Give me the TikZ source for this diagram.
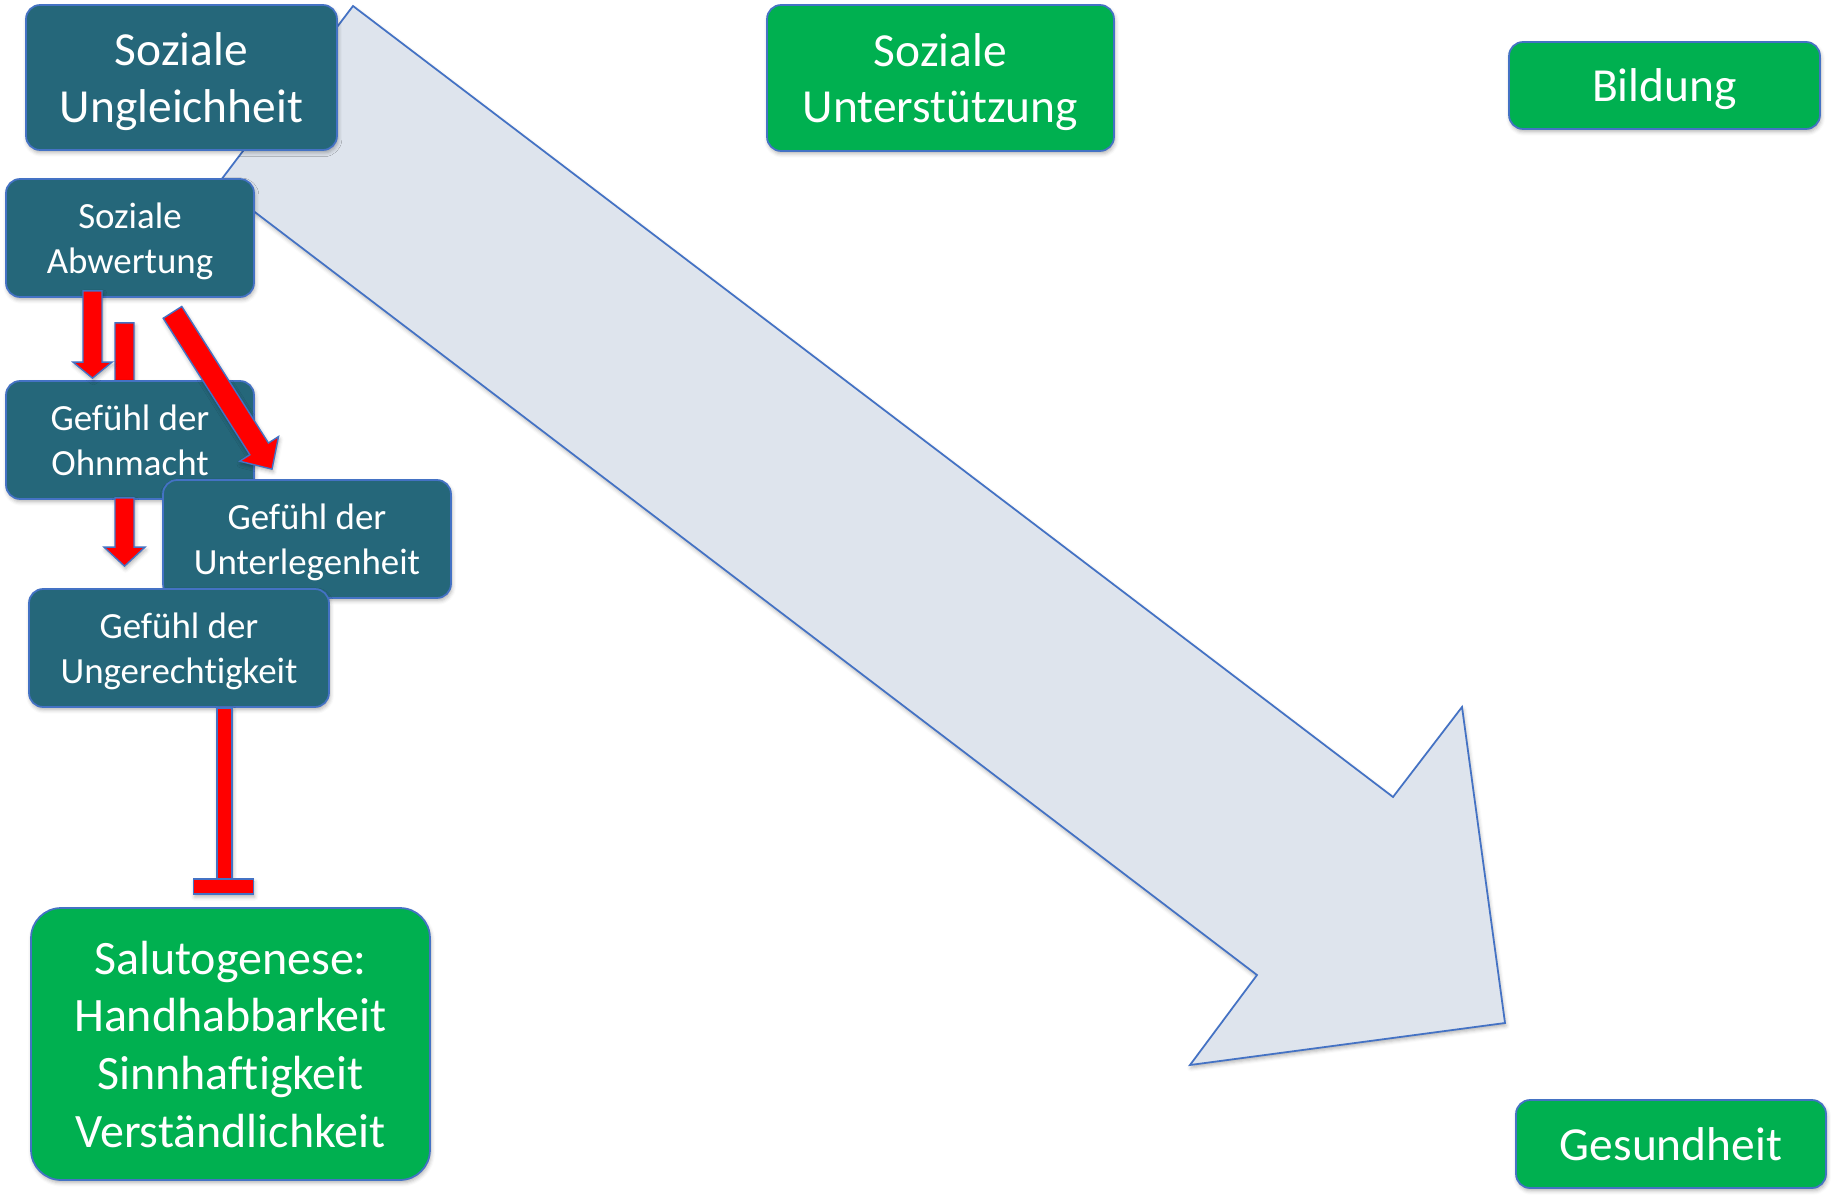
\documentclass[tikz,border=0pt]{standalone}
\usepackage{fontspec}
\setmainfont{Carlito}[Ligatures=NoCommon]
\usetikzlibrary{calc,shadows.blur}

\definecolor{boxteal}{HTML}{25677A}
\definecolor{boxgreen}{HTML}{00B050}
\definecolor{edgeblue}{HTML}{4472C4}
\definecolor{flowfill}{HTML}{DEE4ED}
\definecolor{alarmred}{HTML}{FF0000}

\tikzset{
  softshadow/.style={blur shadow={shadow xshift=0.6pt, shadow yshift=-1.6pt,
      shadow blur radius=2.2pt, shadow opacity=30}},
  box/.style={draw=edgeblue, line width=1pt, inner sep=0pt, align=center,
      text=white, text depth=0pt, rounded corners=0.28cm, softshadow},
  tealbig/.style={box, fill=boxteal, font=\fontsize{27}{32.4}\selectfont},
  tealsmall/.style={box, fill=boxteal, font=\fontsize{21}{25.4}\selectfont},
  greenbig/.style={box, fill=boxgreen, font=\fontsize{27}{32.4}\selectfont},
  greenlist/.style={box, fill=boxgreen, rounded corners=0.6cm,
      font=\fontsize{27.3}{32.8}\selectfont},
  flow/.style={draw=edgeblue, line width=1pt, fill=flowfill, line join=miter, softshadow},
  redblock/.style={draw=edgeblue, line width=0.8pt, fill=alarmred, line join=miter, softshadow},
}

% block arrow: start, tip, shaft half-width, head half-width, head length
\newcommand\blockarrow[5]{%
  \coordinate (bh) at ($(#2)!#5!(#1)$);
  \filldraw[redblock] ($(#1)!#3!90:(#2)$) -- ($(bh)!#3!-90:(#1)$)
    -- ($(bh)!#4!-90:(#1)$) -- (#2) -- ($(bh)!#4!90:(#1)$)
    -- ($(bh)!#3!90:(#1)$) -- ($(#1)!#3!-90:(#2)$) -- cycle;}

\begin{document}
\begin{tikzpicture}[x=0.02cm, y=-0.02cm]
  \useasboundingbox (0,0) rectangle (1845,1196);

  % the large flow arrow towards health
  \filldraw[flow] (353,6) -- (1393,797) -- (1462,707) -- (1505,1023)
    -- (1190,1065) -- (1257,975) -- (218,184) -- cycle;

  % boxes along the top and the first step
  \node[tealbig, minimum width=6.22cm, minimum height=2.9cm] (su) at (181.5,77.5) {Soziale\\Ungleichheit};
  \node[greenbig, minimum width=6.94cm, minimum height=2.92cm] (sun) at (940.5,78) {Soziale\\Unterstützung};
  \node[greenbig, minimum width=6.22cm, minimum height=1.74cm] (bil) at (1664.5,85.5) {Bildung};
  \node[tealsmall, minimum width=4.96cm, minimum height=2.36cm] (sa) at (130,238) {Soziale\\Abwertung};

  % bar running into the Ohnmacht box from behind
  \coordinate (b1s) at ($(sa.south)+(-5.5,25)$);
  \coordinate (b1t) at ($(sa.south)+(-5.5,150)$);
  \blockarrow{b1s}{b1t}{0.19cm}{0.41cm}{0.38cm}

  % the feelings
  \node[tealsmall, minimum width=4.96cm, minimum height=2.36cm] (oh) at (130,440) {Gefühl der\\Ohnmacht};
  \node[tealsmall, minimum width=5.76cm, minimum height=2.36cm] (ul) at (307,539) {Gefühl der\\Unterlegenheit};
  \node[tealsmall, minimum width=6.0cm, minimum height=2.36cm] (ug) at (179,648) {Gefühl der\\Ungerechtigkeit};
  \node[greenlist, minimum width=7.98cm, minimum height=5.44cm] (sal) at (230.5,1044)
    {Salutogenese:\\Handhabbarkeit\\Sinnhaftigkeit\\Verständlichkeit};
  \node[greenbig, minimum width=6.2cm, minimum height=1.76cm] (ges) at (1671,1144) {Gesundheit};

  % Abwertung -> Ohnmacht
  \coordinate (a1s) at ($(sa.south)+(-37.5,-7)$);
  \coordinate (a1t) at ($(oh.north)+(-37.5,-2)$);
  \blockarrow{a1s}{a1t}{0.19cm}{0.39cm}{0.32cm}

  % Abwertung -> Unterlegenheit
  \coordinate (d1s) at ($(sa.south)+(42.5,14.5)$);
  \coordinate (d1t) at ($(ul.north)+(-35,-10)$);
  \blockarrow{d1s}{d1t}{0.22cm}{0.46cm}{0.48cm}

  % Ohnmacht -> Ungerechtigkeit
  \coordinate (c1s) at ($(oh.south)+(-5.5,-2)$);
  \coordinate (c1t) at ($(ug.north)+(-54.5,-22)$);
  \blockarrow{c1s}{c1t}{0.19cm}{0.41cm}{0.38cm}

  % Ungerechtigkeit inhibits Salutogenese
  \coordinate (t1s) at ($(ug.south)+(45.5,0)$);
  \coordinate (t1e) at ($(sal.north)+(-6,-28)$);
  \filldraw[redblock] ($(t1s)+(-7.5,0)$) rectangle ($(t1e)+(7.5,0)$);
  \filldraw[redblock] ($(t1e)+(-31,0)$) rectangle ($(t1e)+(29,15)$);
\end{tikzpicture}
\end{document}
